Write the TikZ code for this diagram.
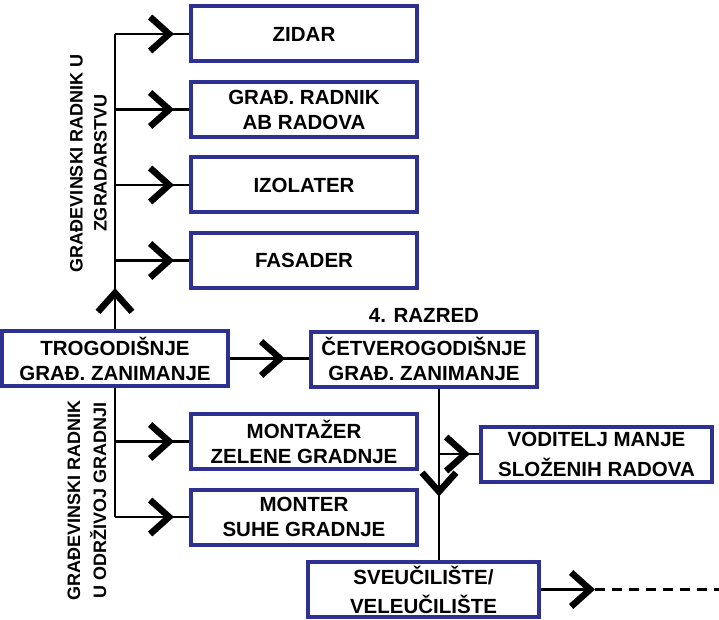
\documentclass[tikz,border=0pt]{standalone}
\usepackage{fontspec}
\setmainfont{Liberation Sans}
\usepackage{xcolor}
\definecolor{colorBox}{RGB}{46,49,146}
\usetikzlibrary{arrows.meta, calc, positioning, decorations.markings}
\tikzset{
  box/.style={draw=colorBox, line width=4pt, fill=white, minimum width=226pt, minimum height=55pt, inner sep=2pt, align=center, font=\fontsize{20.5}{25}\selectfont\bfseries},
  side/.style={rotate=90, align=center, font=\fontsize{18}{24}\selectfont\bfseries},
  conn/.style={line width=2.8pt, black},
  tipat/.style={postaction={decorate, decoration={markings, mark=at position #1 with {\arrow{>}}}}}
}
\begin{document}
\begin{tikzpicture}[x=1pt, y=-1pt, >={Straight Barb[length=19pt,width=34pt,line width=6.5pt,line cap=butt]}, node distance=16.5pt]
\useasboundingbox (0,0) rectangle (719,620);
\node[box] (zid) at (304,34) {ZIDAR};
\node[box, below=of zid] (ab) {GRAĐ. RADNIK\\AB RADOVA};
\node[box, below=of ab] (izo) {IZOLATER};
\node[box, below=of izo] (fas) {FASADER};
\node[box] (tro) at (115,358.5) {TROGODIŠNJE\\GRAĐ. ZANIMANJE};
\node[box] (cet) at (424,359) {ČETVEROGODIŠNJE\\GRAĐ. ZANIMANJE};
\node[above=3pt of cet, font=\fontsize{20.5}{25}\selectfont\bfseries] (raz) {4. RAZRED};
\node[box] (mon) at (304,441.5) {MONTAŽER\\ZELENE GRADNJE};
\node[box, below=of mon] (msg) {MONTER\\SUHE GRADNJE};
\node[box, minimum width=231pt] (vod) at (596.5,454) {VODITELJ MANJE\\[5pt]SLOŽENIH RADOVA};
\node[box, minimum width=231pt] (sve) at (423.5,589.5) {SVEUČILIŠTE/\\[4pt]VELEUČILIŠTE};
\node[side] (lup) at (88.5,163) {GRAĐEVINSKI RADNIK U\\ZGRADARSTVU};
\node[side, font=\fontsize{18}{26}\selectfont\bfseries] (llo) at (87,500) {GRAĐEVINSKI RADNIK\\U ODRŽIVOJ GRADNJI};
% upper branch
\draw[conn, tipat=41pt] (tro.north) -- (tro.north |- zid.west);
\draw[conn, tipat=-15pt] (tro.north |- zid.west) -- (zid.west);
\draw[conn, tipat=-15pt] (tro.north |- ab.west) -- (ab.west);
\draw[conn, tipat=-15pt] (tro.north |- izo.west) -- (izo.west);
\draw[conn, tipat=-15pt] (tro.north |- fas.west) -- (fas.west);
% lower branch
\draw[conn] (tro.south) -- (tro.south |- msg.west);
\draw[conn, tipat=-15pt] (tro.south |- mon.west) -- (mon.west);
\draw[conn, tipat=-15pt] (tro.south |- msg.west) -- (msg.west);
\draw[conn, tipat=-24pt] (tro.east) -- (tro.east -| cet.west);
% four-year branch
\coordinate (split) at ($(cet.south)+(15,0)$);
\draw[conn, tipat=108pt] (split) -- (split |- sve.north);
\draw[conn, tipat=-9pt] (split |- vod.west) -- (vod.west);
\coordinate (tipr) at ($(sve.east)+(54,0)$);
\coordinate (far) at ($(sve.east)+(178,0)$);
\draw[conn, ->] (sve.east) -- (tipr);
\draw[conn, dash pattern=on 10pt off 7pt] (tipr) -- (far);
\end{tikzpicture}
\end{document}
